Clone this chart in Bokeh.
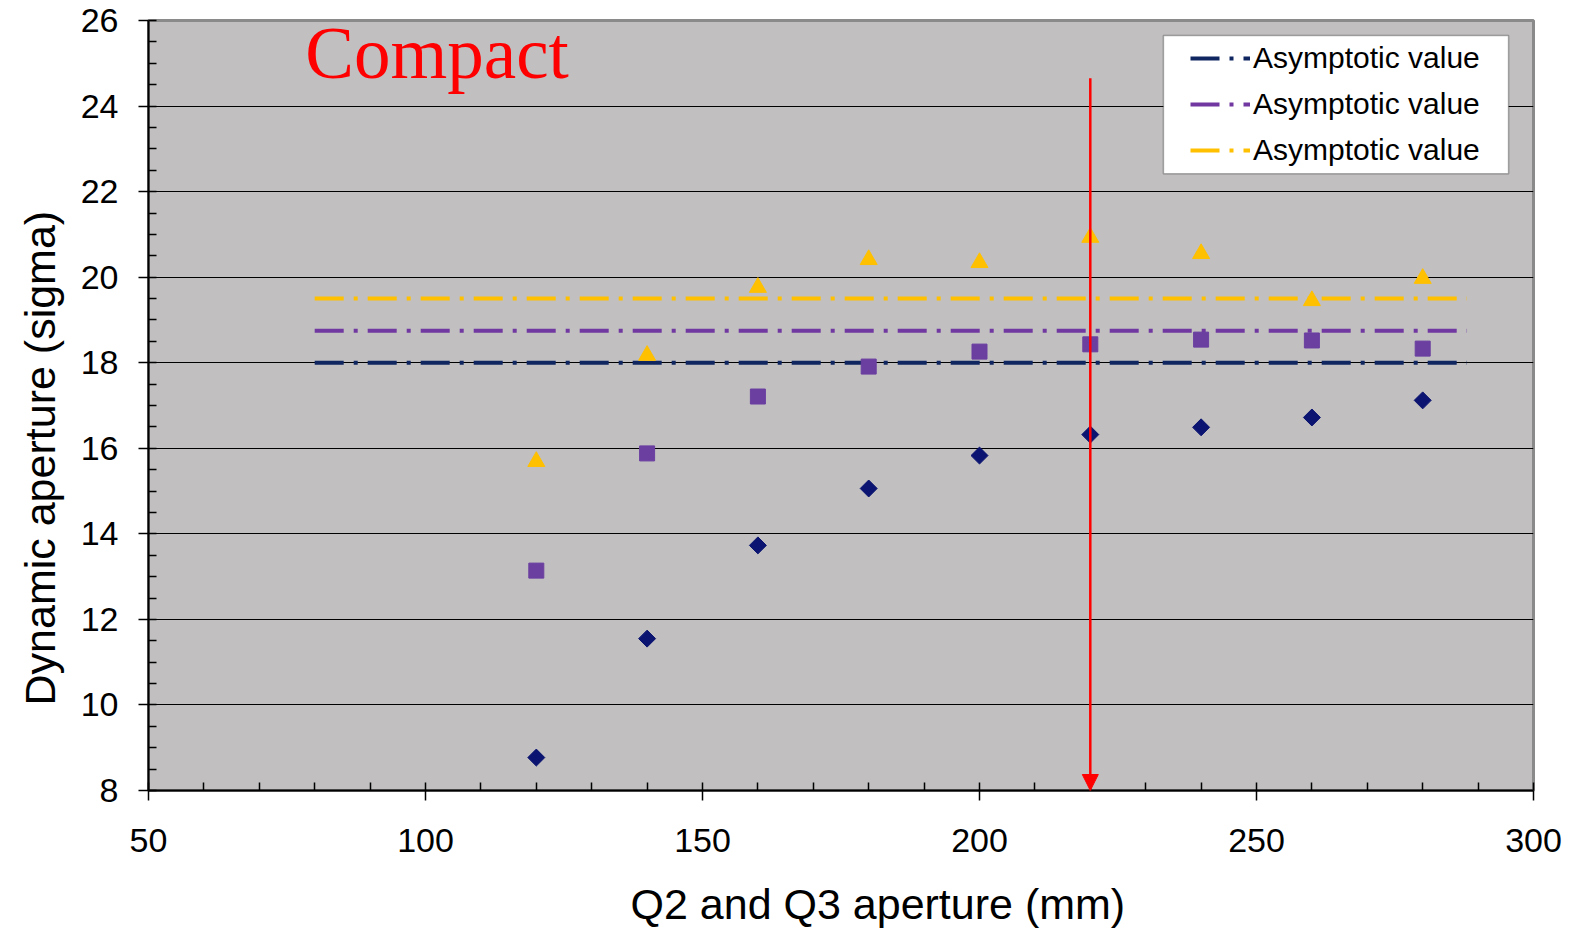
from bokeh.plotting import figure
from bokeh.models import Range1d, SingleIntervalTicker, Label, Arrow, NormalHead, Legend, LegendItem, BoxAnnotation, Title
from bokeh.embed import file_html
from bokeh.resources import INLINE
import numpy as np

# ---- data ----
aperture = [120, 140, 160, 180, 200, 220, 240, 260, 280]
da_navy = [8.77, 11.55, 13.73, 15.06, 15.83, 16.32, 16.49, 16.72, 17.12]
da_purple = [13.14, 15.88, 17.21, 17.91, 18.26, 18.43, 18.54, 18.52, 18.33]
da_gold = [15.69, 18.17, 19.76, 20.41, 20.34, 20.93, 20.55, 19.45, 19.97]
asym_x = [80, 288]
asym_navy = 18.0
asym_purple = 18.75
asym_gold = 19.5
arrow_x = 220
arrow_top = 24.65
legend_labels = ["Asymptotic value", "Asymptotic value", "Asymptotic value"]
x_title = "Q2 and Q3 aperture (mm)"
y_title = "Dynamic aperture (sigma)"

NAVY = "#0B1470"
NAVY_LINE = "#0F2660"
PURPLE = "#6B3FA0"
PURPLE_LINE = "#7038A0"
GOLD = "#FFC000"
BG = "#C1BFC0"

p = figure(frame_width=1385, frame_height=770,
           min_border_left=148, min_border_right=37, min_border_top=20, min_border_bottom=147,
           x_range=Range1d(50, 300), y_range=Range1d(8, 26),
           output_backend="svg", toolbar_location=None,
           background_fill_color=BG, border_fill_color="white")

p.outline_line_color = "#8A8A8A"
p.outline_line_width = 3

p.xaxis.ticker = SingleIntervalTicker(interval=50, num_minor_ticks=5)
p.yaxis.ticker = SingleIntervalTicker(interval=2, num_minor_ticks=4)
p.xgrid.grid_line_color = None
p.ygrid.grid_line_color = "black"
p.ygrid.grid_line_width = 1.2

for ax in (p.xaxis, p.yaxis):
    ax.axis_line_color = "black"
    ax.axis_line_width = 2
    ax.major_tick_line_color = "black"
    ax.major_tick_line_width = 1.5
    ax.major_tick_out = 10
    ax.major_tick_in = 0
    ax.minor_tick_line_color = "black"
    ax.minor_tick_line_width = 1.5
    ax.minor_tick_in = 8
    ax.minor_tick_out = 0
    ax.major_label_text_font = "Liberation Sans"
    ax.major_label_text_font_size = "34px"
    ax.major_label_text_color = "black"

p.xaxis.major_label_standoff = 28
p.yaxis.major_label_standoff = 20

# axis titles (offset from centre as in the original)
p.add_layout(Title(text=x_title, text_font="Liberation Sans", text_font_size="43px",
                   text_font_style="normal", text_color="black",
                   align="left", offset=482, standoff=46), "below")
p.add_layout(Title(text=y_title, text_font="Liberation Sans", text_font_size="43px",
                   text_font_style="normal", text_color="black",
                   align="left", offset=85, standoff=27), "left")

dash = "29 10 4 10"
l1 = p.line(asym_x, [asym_navy] * 2, line_color=NAVY_LINE, line_width=4, line_dash=dash)
l2 = p.line(asym_x, [asym_purple] * 2, line_color=PURPLE_LINE, line_width=4, line_dash=dash)
l3 = p.line(asym_x, [asym_gold] * 2, line_color=GOLD, line_width=4, line_dash=dash)

p.scatter(aperture, da_navy, marker="square", angle=np.pi / 4, size=12,
          fill_color=NAVY, line_color=NAVY)
p.scatter(aperture, da_purple, marker="square", size=15,
          fill_color=PURPLE, line_color=PURPLE)
p.scatter(aperture, da_gold, marker="triangle", size=17,
          fill_color=GOLD, line_color=GOLD)

p.add_layout(Arrow(end=NormalHead(size=16, fill_color="#FF0000", line_color="#FF0000"),
                   x_start=arrow_x, y_start=arrow_top, x_end=arrow_x, y_end=8,
                   line_color="#FF0000", line_width=2.5))

p.add_layout(Label(x=78.3, y=25.23, text="Compact", text_font="Liberation Serif",
                   text_font_size="73px", text_color="#FF0000", text_baseline="alphabetic"))

# legend frame
p.add_layout(BoxAnnotation(left=233.2, right=295.5, top=25.65, bottom=22.42,
                           fill_color="white", fill_alpha=1,
                           line_color="black", line_width=1.5))

legend = Legend(items=[LegendItem(label=legend_labels[0], renderers=[l1]),
                       LegendItem(label=legend_labels[1], renderers=[l2]),
                       LegendItem(label=legend_labels[2], renderers=[l3])],
                location=(1042, 623))
legend.background_fill_alpha = 0
legend.border_line_color = None
legend.label_text_font = "Liberation Sans"
legend.label_text_font_size = "30px"
legend.label_text_color = "black"
legend.glyph_width = 60
legend.glyph_height = 30
legend.label_height = 30
legend.label_standoff = 3
legend.spacing = 12
legend.padding = 0
legend.margin = 0
p.add_layout(legend, "center")

open("out.html", "w").write(file_html(p, INLINE))
